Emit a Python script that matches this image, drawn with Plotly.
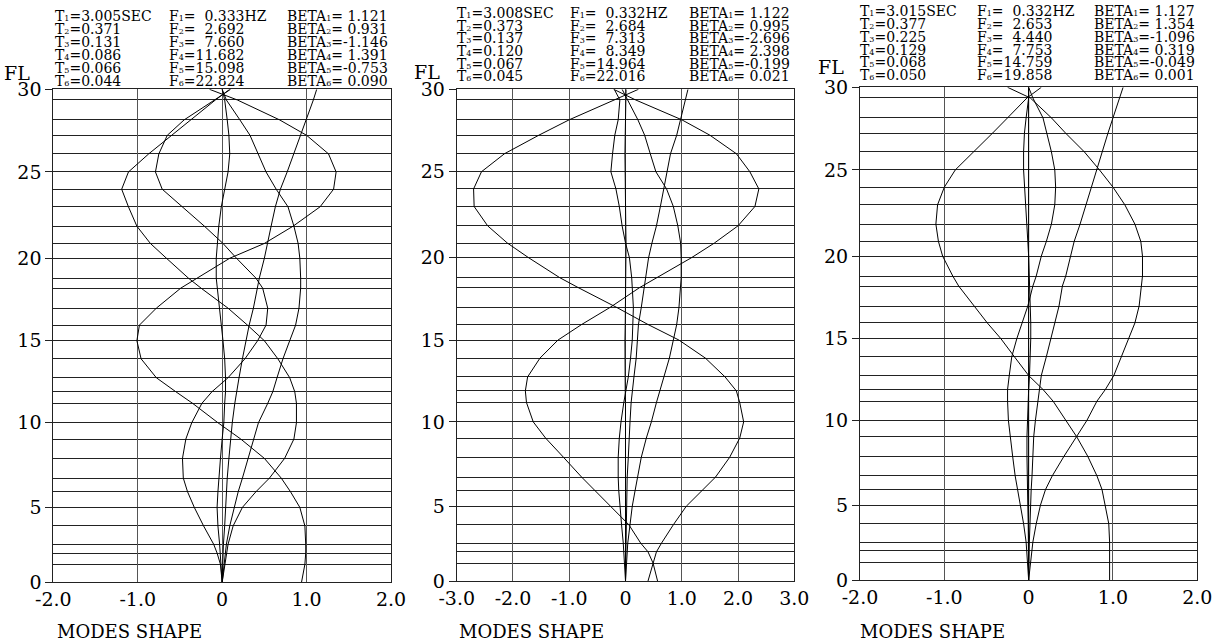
import plotly.graph_objects as go

# ---------------- data ----------------
# storey heights (axis units) of floor lines F0..F30
FLOOR_HEIGHT = [0, 1.09, 1.78, 2.31, 3.43, 4.56, 5.51, 6.34, 7.54, 8.72, 9.71,
                10.89, 11.60, 12.45, 13.60, 14.70, 15.65, 16.68, 17.90, 18.51, 19.72,
                20.62, 21.67, 22.85, 23.92, 24.97, 26.07, 27.20, 28.14, 29.35, 30.0]
FLOOR_LABELS = [0, 5, 10, 15, 20, 25, 30]

# panel 1 mode shapes (F0..F30)
P1_M1 = [0, 0.005, 0.01, 0.015, 0.03, 0.04, 0.05, 0.06, 0.08, 0.10, 0.12, 0.15, 0.17, 0.20, 0.24, 0.28,
         0.32, 0.37, 0.42, 0.44, 0.50, 0.54, 0.58, 0.63, 0.69, 0.77, 0.85, 0.93, 1.00, 1.08, 1.12]
P1_M2 = [0, 0.02, 0.035, 0.05, 0.09, 0.14, 0.19, 0.24, 0.31, 0.38, 0.43, 0.54, 0.60, 0.65, 0.72, 0.80,
         0.87, 0.91, 0.93, 0.93, 0.92, 0.90, 0.85, 0.78, 0.64, 0.52, 0.43, 0.33, 0.21, 0.05, 0.0]
P1_M3 = [0.94, 0.98, 0.99, 0.99, 0.98, 0.92, 0.81, 0.70, 0.50, 0.22, -0.05, -0.35, -0.55, -0.78, -0.96, -1.01,
         -0.98, -0.78, -0.49, -0.30, 0.09, 0.50, 0.84, 1.16, 1.32, 1.35, 1.26, 1.0, 0.68, 0.18, -0.15]
P1_M4 = [0, 0.03, 0.05, 0.07, 0.13, 0.24, 0.40, 0.56, 0.74, 0.85, 0.88, 0.88, 0.86, 0.80, 0.66, 0.50,
         0.30, 0.07, -0.25, -0.40, -0.66, -0.85, -1.01, -1.11, -1.19, -1.11, -0.87, -0.60, -0.38, -0.08, 0.09]
P1_M5 = [0, -0.02, -0.06, -0.10, -0.22, -0.33, -0.41, -0.46, -0.47, -0.43, -0.36, -0.24, -0.12, 0.07, 0.27, 0.42,
         0.52, 0.54, 0.48, 0.40, 0.17, 0.01, -0.21, -0.47, -0.71, -0.79, -0.75, -0.65, -0.45, -0.09, 0.10]
P1_M6 = [0, -0.01, -0.02, -0.03, -0.05, -0.06, -0.05, -0.04, -0.02, 0.0, 0.02, 0.03, 0.04, 0.04, 0.03, 0.01,
         -0.01, -0.04, -0.06, -0.07, -0.07, -0.06, -0.04, -0.01, 0.03, 0.07, 0.09, 0.08, 0.06, 0.03, 0.0]

# panel 2 mode shapes
P2_M1 = [0, 0.0, 0.005, 0.01, 0.015, 0.02, 0.025, 0.03, 0.05, 0.06, 0.08, 0.10, 0.12, 0.15, 0.19, 0.21,
         0.23, 0.28, 0.33, 0.36, 0.41, 0.47, 0.55, 0.62, 0.68, 0.73, 0.80, 0.91, 0.98, 1.06, 1.11]
P2_M2 = [0, 0.02, 0.03, 0.04, 0.08, 0.12, 0.17, 0.21, 0.28, 0.37, 0.46, 0.55, 0.61, 0.67, 0.78, 0.85,
         0.91, 0.95, 0.98, 0.99, 0.99, 0.98, 0.93, 0.85, 0.73, 0.54, 0.44, 0.34, 0.22, 0.04, -0.06]
P2_M3 = [0.40, 0.49, 0.55, 0.64, 0.85, 1.08, 1.35, 1.60, 1.85, 2.03, 2.10, 2.03, 1.97, 1.77, 1.42, 0.95,
         0.40, -0.15, -0.84, -1.17, -1.72, -2.10, -2.45, -2.69, -2.70, -2.56, -2.15, -1.54, -1.0, -0.18, 0.23]
P2_M4 = [0.57, 0.49, 0.40, 0.27, 0.06, -0.27, -0.53, -0.78, -1.10, -1.42, -1.64, -1.76, -1.78, -1.74, -1.52, -1.20,
         -0.78, -0.28, 0.25, 0.55, 1.17, 1.58, 2.0, 2.30, 2.37, 2.21, 1.97, 1.50, 1.0, 0.18, -0.21]
P2_M5 = [0, -0.015, -0.03, -0.04, -0.07, -0.10, -0.12, -0.13, -0.13, -0.11, -0.08, -0.03, 0.01, 0.05, 0.09, 0.12,
         0.13, 0.14, 0.12, 0.11, 0.07, 0.0, -0.06, -0.11, -0.17, -0.26, -0.23, -0.19, -0.13, -0.10, -0.20]
P2_M6 = [0, 0.0, 0.0, 0.005, 0.005, 0.01, 0.01, 0.01, 0.01, 0.01, 0.005, 0.0, -0.005, -0.01, -0.01, -0.01,
         -0.005, 0.0, 0.005, 0.01, 0.01, 0.01, 0.005, 0.0, -0.005, -0.01, -0.01, -0.005, 0.0, 0.005, 0.01]

# panel 3 mode shapes
P3_M1 = [0, 0.0, 0.004, 0.008, 0.016, 0.02, 0.03, 0.04, 0.05, 0.06, 0.08, 0.11, 0.13, 0.15, 0.21, 0.26,
         0.31, 0.36, 0.40, 0.44, 0.50, 0.54, 0.61, 0.68, 0.74, 0.80, 0.87, 0.94, 1.0, 1.08, 1.12]
P3_M2 = [0, 0.02, 0.035, 0.05, 0.09, 0.14, 0.20, 0.28, 0.42, 0.57, 0.69, 0.81, 0.91, 1.01, 1.10, 1.18,
         1.26, 1.31, 1.34, 1.35, 1.35, 1.33, 1.26, 1.14, 1.0, 0.84, 0.66, 0.44, 0.27, 0.02, -0.25]
P3_M3 = [0.96, 0.96, 0.96, 0.96, 0.95, 0.91, 0.87, 0.81, 0.70, 0.57, 0.44, 0.29, 0.17, 0.0, -0.17, -0.33,
         -0.49, -0.65, -0.83, -0.90, -1.02, -1.07, -1.10, -1.08, -1.0, -0.87, -0.65, -0.43, -0.25, -0.02, 0.15]
P3_M4 = [0, -0.01, -0.02, -0.03, -0.06, -0.10, -0.13, -0.16, -0.19, -0.22, -0.24, -0.25, -0.25, -0.23, -0.20, -0.14,
         -0.08, -0.01, 0.05, 0.09, 0.15, 0.21, 0.27, 0.31, 0.32, 0.31, 0.27, 0.22, 0.17, 0.05, 0.0]
P3_M5 = [0, 0, 0, 0, -0.005, -0.01, -0.015, -0.02, -0.02, -0.02, -0.015, -0.01, 0.0, 0.01, 0.02, 0.025,
         0.025, 0.02, 0.015, 0.01, 0.0, -0.01, -0.02, -0.04, -0.05, -0.06, -0.06, -0.05, -0.03, 0.0, 0.0]
P3_M6 = [0, 0, 0, 0, 0.002, 0.002, 0.003, 0.003, 0.003, 0.002, 0.0, -0.002, -0.003, -0.003, -0.002, 0.0,
         0.002, 0.003, 0.003, 0.002, 0.0, -0.002, -0.003, -0.003, -0.002, 0.0, 0.002, 0.003, 0.002, 0.001, 0.0]

# header values
P1_T = [3.005, 0.371, 0.131, 0.086, 0.066, 0.044]
P1_F = [0.333, 2.692, 7.660, 11.682, 15.098, 22.824]
P1_BETA = [1.121, 0.931, -1.146, 1.391, -0.753, 0.090]
P2_T = [3.008, 0.373, 0.137, 0.120, 0.067, 0.045]
P2_F = [0.332, 2.684, 7.313, 8.349, 14.964, 22.016]
P2_BETA = [1.122, 0.995, -2.696, 2.398, -0.199, 0.021]
P3_T = [3.015, 0.377, 0.225, 0.129, 0.068, 0.050]
P3_F = [0.332, 2.653, 4.440, 7.753, 14.759, 19.858]
P3_BETA = [1.127, 1.354, -1.096, 0.319, -0.049, 0.001]

P1_XTICKS = [-2, -1, 0, 1, 2]
P2_XTICKS = [-3, -2, -1, 0, 1, 2, 3]
P3_XTICKS = [-2, -1, 0, 1, 2]

# ---------------- layout geometry (pixels) ----------------
W, H = 1222, 643
FONT = "DejaVu Serif"

panels = [
    dict(modes=[P1_M1, P1_M2, P1_M3, P1_M4, P1_M5, P1_M6], xt=P1_XTICKS,
         T=P1_T, F=P1_F, B=P1_BETA, x0=53.3, x1=391.0, ytop=89.3, ybot=582.3,
         cols=[53.3, 166.7, 285.0], row0=16.2, drow=13.0, fl=(17, 73), ms=55),
    dict(modes=[P2_M1, P2_M2, P2_M3, P2_M4, P2_M5, P2_M6], xt=P2_XTICKS,
         T=P2_T, F=P2_F, B=P2_BETA, x0=456.7, x1=794.3, ytop=89.3, ybot=581.0,
         cols=[455.0, 568.0, 687.0], row0=12.8, drow=12.7, fl=(427, 72.5), ms=456.7),
    dict(modes=[P3_M1, P3_M2, P3_M3, P3_M4, P3_M5, P3_M6], xt=P3_XTICKS,
         T=P3_T, F=P3_F, B=P3_BETA, x0=860.0, x1=1197.3, ytop=87.3, ybot=580.0,
         cols=[858.0, 975.0, 1091.7], row0=11.5, drow=12.7, fl=(831, 67.5), ms=858),
]

fig = go.Figure()
layout = dict(width=W, height=H, autosize=False, margin=dict(l=0, r=0, t=0, b=0, pad=0),
              paper_bgcolor="white", plot_bgcolor="white", showlegend=False)
annotations = []

ytickvals = [FLOOR_HEIGHT[i] for i in FLOOR_LABELS]
yticktext = [str(i) for i in FLOOR_LABELS]


def fmt_tick(v):
    return "0" if v == 0 else f"{v:.1f}"


def sub(i):
    return f'<span style="font-size:8px">{i}</span>'


for k, p in enumerate(panels):
    n = "" if k == 0 else str(k + 1)
    xa, ya = "x" + n, "y" + n
    for m in p["modes"]:
        fig.add_trace(go.Scatter(x=m, y=FLOOR_HEIGHT, mode="lines", xaxis=xa, yaxis=ya,
                                 line=dict(color="black", width=1), hoverinfo="skip"))
    xt = p["xt"]
    layout["xaxis" + n] = dict(
        domain=[p["x0"] / W, p["x1"] / W], anchor=ya, range=[xt[0], xt[-1]],
        automargin=False,
        tickmode="array", tickvals=xt, ticktext=[fmt_tick(v) for v in xt],
        showgrid=True, gridcolor="#555", gridwidth=1, zeroline=False,
        showline=True, mirror=True, linecolor="#222", linewidth=1, ticks="",
        tickfont=dict(family=FONT, size=19, color="black"))
    layout["yaxis" + n] = dict(
        domain=[1 - p["ybot"] / H, 1 - p["ytop"] / H], anchor=xa, range=[0, 30],
        automargin=False,
        tickmode="array", tickvals=ytickvals, ticktext=yticktext,
        ticks="outside", ticklen=7, tickcolor="#222", tickwidth=1,
        showgrid=True, gridcolor="#222", gridwidth=1, zeroline=False,
        showline=True, mirror=True, linecolor="#222", linewidth=1,
        minor=dict(tickmode="array", tickvals=FLOOR_HEIGHT, showgrid=True,
                   gridcolor="#222", gridwidth=1, ticks=""),
        tickfont=dict(family=FONT, size=19, color="black"))

    # header text
    for i in range(6):
        yy = 1 - (p["row0"] + i * p["drow"]) / H
        t = f"T{sub(i+1)}={p['T'][i]:.3f}" + ("SEC" if i == 0 else "")
        fv = p["F"][i]
        pad = "\u00a0\u00a0" if fv < 10 else ""
        f = f"F{sub(i+1)}={pad}{fv:.3f}" + ("HZ" if i == 0 else "")
        bv = p["B"][i]
        b = f"BETA{sub(i+1)}=" + ("\u00a0" if bv >= 0 else "") + f"{bv:.3f}"
        for cx, txt in zip(p["cols"], [t, f, b]):
            annotations.append(dict(text=txt, x=cx / W, y=yy, xref="paper", yref="paper",
                                    xanchor="left", yanchor="middle", showarrow=False,
                                    font=dict(family=FONT, size=14, color="black")))
    annotations.append(dict(text="FL", x=p["fl"][0] / W, y=1 - p["fl"][1] / H, xref="paper",
                            yref="paper", xanchor="center", yanchor="middle", showarrow=False,
                            font=dict(family=FONT, size=19, color="black")))
    annotations.append(dict(text="MODES SHAPE", x=p["ms"] / W, y=1 - 631 / H, xref="paper",
                            yref="paper", xanchor="left", yanchor="middle", showarrow=False,
                            font=dict(family=FONT, size=18, color="black")))

layout["annotations"] = annotations
fig.update_layout(**layout)
fig.write_html("out.html")
